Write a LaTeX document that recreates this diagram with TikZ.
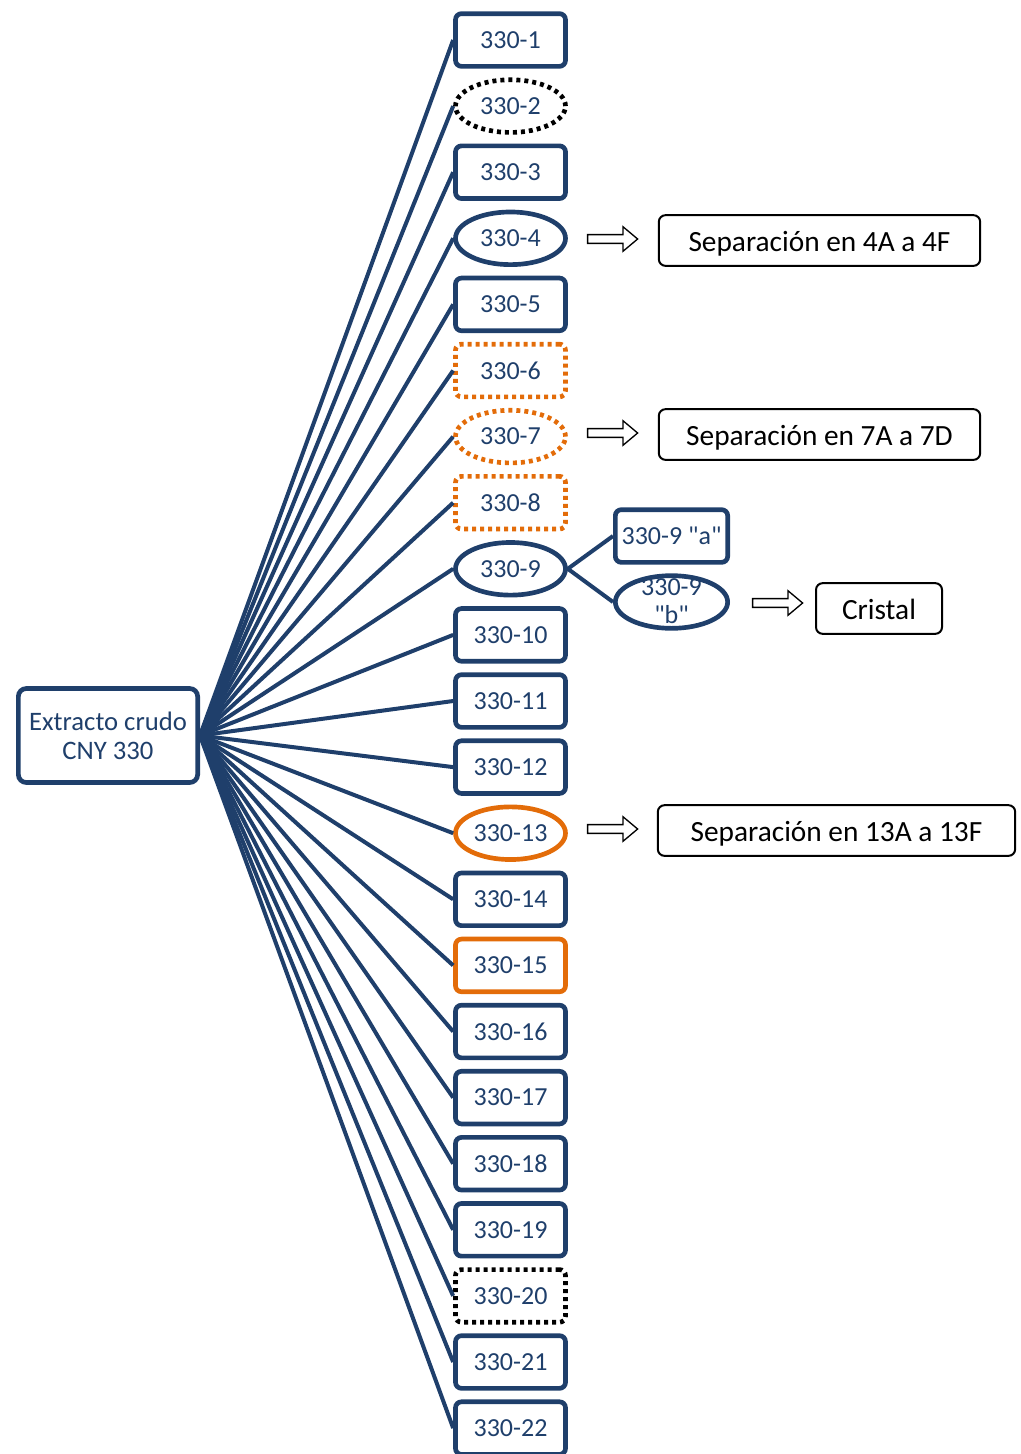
\documentclass[tikz,border=0pt]{standalone}
\usepackage{fontspec}
\setmainfont{Carlito}[Ligatures=TeXOff]
\usetikzlibrary{shapes.geometric,shapes.arrows}
\definecolor{dblue}{HTML}{1F3F6B}
\definecolor{orng}{HTML}{E36C09}
\tikzset{
 col/.style={minimum width=82.5pt,minimum height=39.5pt,inner sep=0pt,line width=3.5pt,text=dblue,font=\fontsize{19.5}{22}\selectfont},
 rbox/.style={col,rectangle,rounded corners=4.5pt,draw=dblue},
 ebox/.style={col,ellipse,draw=dblue},
 dots/.style={dash pattern=on 3pt off 3pt},
 conn/.style={draw=dblue,line width=3pt},
 sbox/.style={rectangle,rounded corners=5pt,draw=black,line width=1.5pt,inner sep=0pt,font=\fontsize{22}{24}\selectfont,minimum height=38pt,text height=17pt,text depth=0pt},
 sarrow/.style={single arrow,draw=black,line width=1pt,minimum height=37.5pt,inner sep=2.8pt,single arrow head extend=5.9pt,single arrow tip angle=80},
}
\begin{document}
\begin{tikzpicture}[x=0.75pt,y=-0.75pt]
\useasboundingbox (0,0) rectangle (1021,1454);
% main source
\node[rectangle,rounded corners=6pt,draw=dblue,line width=3.5pt,minimum width=134.5pt,minimum height=70.5pt,inner sep=0pt,text=dblue,align=center,font=\fontsize{20}{21.75}\selectfont] (ex) at (108,735.5) {Extracto crudo\\CNY 330};
% column
\node[rbox] (n1) at (510.5,40) {330-1};
\node[ebox,draw=black,dots] (n2) at (510.5,106.1) {330-2};
\node[rbox] (n3) at (510.5,172.2) {330-3};
\node[ebox] (n4) at (510.5,238.3) {330-4};
\node[rbox] (n5) at (510.5,304.4) {330-5};
\node[rbox,draw=orng,dots] (n6) at (510.5,370.5) {330-6};
\node[ebox,draw=orng,dots] (n7) at (510.5,436.6) {330-7};
\node[rbox,draw=orng,dots] (n8) at (510.5,502.7) {330-8};
\node[ebox] (n9) at (510.5,568.8) {330-9};
\node[rbox] (n10) at (510.5,634.9) {330-10};
\node[rbox] (n11) at (510.5,701) {330-11};
\node[rbox] (n12) at (510.5,767.1) {330-12};
\node[ebox,draw=orng] (n13) at (510.5,833.2) {330-13};
\node[rbox] (n14) at (510.5,899.3) {330-14};
\node[rbox,draw=orng] (n15) at (510.5,965.4) {330-15};
\node[rbox] (n16) at (510.5,1031.5) {330-16};
\node[rbox] (n17) at (510.5,1097.6) {330-17};
\node[rbox] (n18) at (510.5,1163.7) {330-18};
\node[rbox] (n19) at (510.5,1229.8) {330-19};
\node[rbox,draw=black,dots] (n20) at (510.5,1295.9) {330-20};
\node[rbox] (n21) at (510.5,1362) {330-21};
\node[rbox] (n22) at (510.5,1428.1) {330-22};
\foreach \i in {1,...,22} \draw[conn] (ex.east) -- (n\i.west);
% 330-9 split
\node[rbox,minimum width=84.25pt] (n9a) at (671.5,536) {330-9 "a"};
\node[ebox,minimum width=84.25pt] (n9b) at (671.5,602) {};
\node[text=dblue,align=center,inner sep=0pt,font=\fontsize{19.5}{21}\selectfont] (n9bt) at (671.5,601) {330-9\\"b"};
\draw[conn] (n9.east) -- (n9a.west);
\draw[conn] (n9.east) -- (n9b.west);
% arrows and result boxes
\node[sarrow] (a4) at (610,239) {};
\node[sbox,minimum width=241pt] (s4) at (819.5,240.5) {Separación en 4A a 4F};
\node[sarrow] (a7) at (610,433) {};
\node[sbox,minimum width=241pt] (s7) at (819.5,434.5) {Separación en 7A a 7D};
\node[sarrow] (a9) at (775,603) {};
\node[sbox,minimum width=94.5pt] (cr) at (879,608.5) {Cristal};
\node[sarrow] (a13) at (610,829) {};
\node[sbox,minimum width=268pt] (s13) at (836.5,830.5) {Separación en 13A a 13F};
\end{tikzpicture}
\end{document}
